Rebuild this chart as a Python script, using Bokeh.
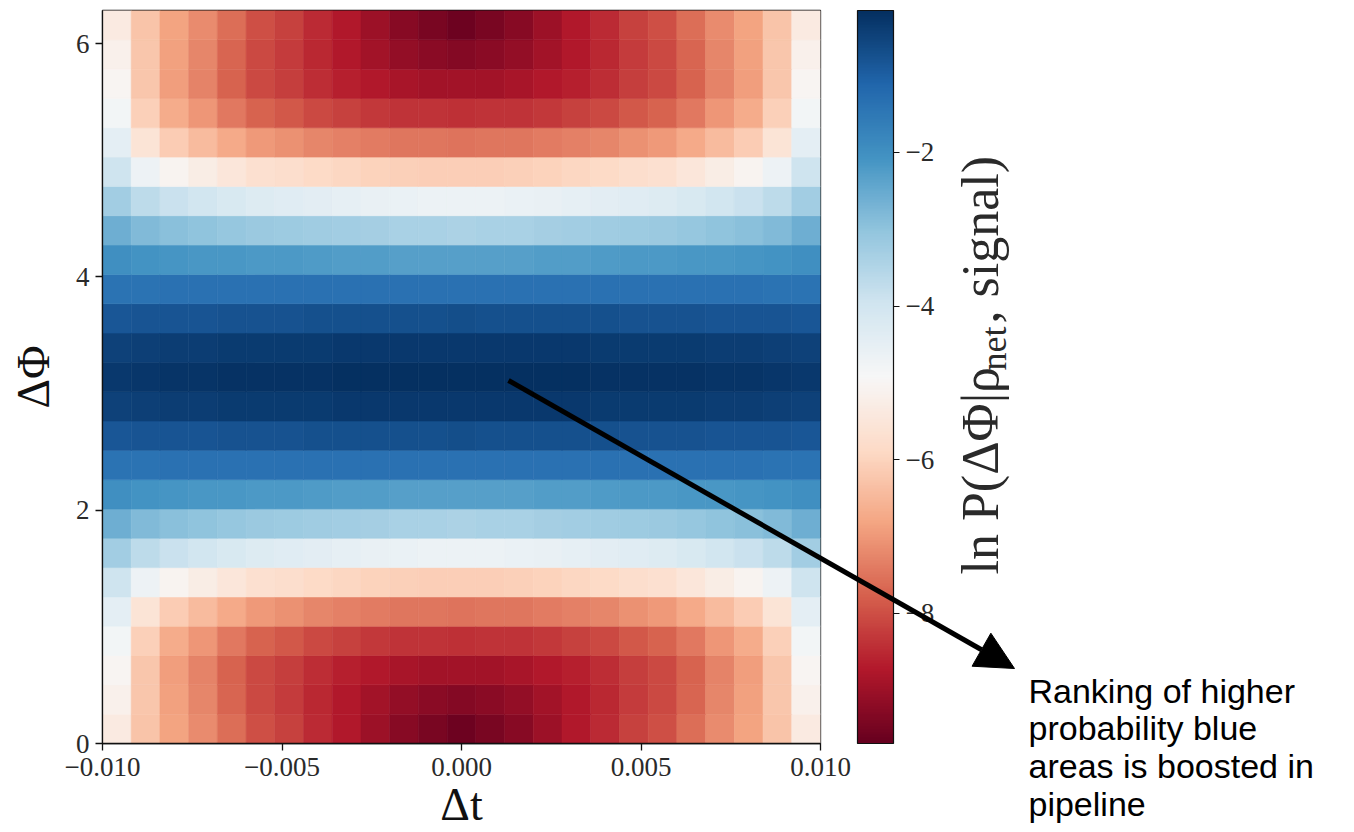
import math
from bokeh.plotting import figure
from bokeh.models import (LinearColorMapper, ColorBar, FixedTicker, Label, Arrow,
                          NormalHead, ColumnDataSource, GridBox, Range1d)
from bokeh.transform import transform
from bokeh.embed import file_html
from bokeh.resources import INLINE

# ---------------- data ----------------
dt_centers = [-0.0096, -0.0088, -0.0080, -0.0072, -0.0064, -0.0056, -0.0048, -0.0040,
              -0.0032, -0.0024, -0.0016, -0.0008, 0.0000, 0.0008, 0.0016, 0.0024,
              0.0032, 0.0040, 0.0048, 0.0056, 0.0064, 0.0072, 0.0080, 0.0088, 0.0096]
dphi_centers = [0.1257, 0.3770, 0.6283, 0.8796, 1.1310, 1.3823, 1.6336, 1.8850, 2.1363,
                2.3876, 2.6389, 2.8903, 3.1416, 3.3929, 3.6442, 3.8956, 4.1469, 4.3982,
                4.6496, 4.9009, 5.1522, 5.4035, 5.6549, 5.9062, 6.1575]
# ln P values, one row per dphi centre (bottom to top), one column per dt centre
lnp = [
    [-5.35,-6.29,-6.84,-7.18,-7.60,-7.99,-8.20,-8.50,-8.75,-9.01,-9.26,-9.45,-9.60,-9.45,-9.26,-9.01,-8.75,-8.50,-8.20,-7.99,-7.60,-7.18,-6.84,-6.29,-5.35],
    [-5.15,-6.26,-6.88,-7.25,-7.69,-8.06,-8.26,-8.53,-8.75,-8.95,-9.12,-9.24,-9.30,-9.24,-9.12,-8.95,-8.75,-8.53,-8.26,-8.06,-7.69,-7.25,-6.88,-6.26,-5.15],
    [-5.00,-6.26,-6.92,-7.30,-7.73,-8.07,-8.24,-8.46,-8.62,-8.76,-8.87,-8.93,-8.95,-8.93,-8.87,-8.76,-8.62,-8.46,-8.24,-8.07,-7.73,-7.30,-6.92,-6.26,-5.00],
    [-4.80,-6.07,-6.71,-7.05,-7.44,-7.74,-7.88,-8.06,-8.18,-8.29,-8.36,-8.39,-8.40,-8.39,-8.36,-8.29,-8.18,-8.06,-7.88,-7.74,-7.44,-7.05,-6.71,-6.07,-4.80],
    [-4.45,-5.57,-6.12,-6.42,-6.75,-6.99,-7.11,-7.25,-7.34,-7.42,-7.47,-7.49,-7.50,-7.49,-7.47,-7.42,-7.34,-7.25,-7.11,-6.99,-6.75,-6.42,-6.12,-5.57,-4.45],
    [-3.95,-4.69,-5.07,-5.27,-5.50,-5.69,-5.77,-5.88,-5.96,-6.02,-6.07,-6.09,-6.10,-6.09,-6.07,-6.02,-5.96,-5.88,-5.77,-5.69,-5.50,-5.27,-5.07,-4.69,-3.95],
    [-3.25,-3.66,-3.88,-4.01,-4.16,-4.29,-4.35,-4.44,-4.50,-4.56,-4.61,-4.64,-4.65,-4.64,-4.61,-4.56,-4.50,-4.44,-4.35,-4.29,-4.16,-4.01,-3.88,-3.66,-3.25],
    [-2.60,-2.81,-2.92,-2.99,-3.08,-3.15,-3.19,-3.24,-3.28,-3.32,-3.36,-3.39,-3.40,-3.39,-3.36,-3.32,-3.28,-3.24,-3.19,-3.15,-3.08,-2.99,-2.92,-2.81,-2.60],
    [-2.00,-2.07,-2.11,-2.13,-2.16,-2.19,-2.20,-2.22,-2.24,-2.26,-2.28,-2.29,-2.30,-2.29,-2.28,-2.26,-2.24,-2.22,-2.20,-2.19,-2.16,-2.13,-2.11,-2.07,-2.00],
    [-1.40,-1.39,-1.38,-1.38,-1.37,-1.37,-1.37,-1.36,-1.36,-1.36,-1.35,-1.35,-1.35,-1.35,-1.35,-1.36,-1.36,-1.36,-1.37,-1.37,-1.37,-1.38,-1.38,-1.39,-1.40],
    [-0.85,-0.82,-0.80,-0.79,-0.77,-0.76,-0.75,-0.74,-0.73,-0.72,-0.71,-0.71,-0.70,-0.71,-0.71,-0.72,-0.73,-0.74,-0.75,-0.76,-0.77,-0.79,-0.80,-0.82,-0.85],
    [-0.45,-0.42,-0.40,-0.39,-0.37,-0.36,-0.35,-0.34,-0.33,-0.32,-0.31,-0.31,-0.30,-0.31,-0.31,-0.32,-0.33,-0.34,-0.35,-0.36,-0.37,-0.39,-0.40,-0.42,-0.45],
    [-0.30,-0.27,-0.25,-0.24,-0.22,-0.21,-0.20,-0.19,-0.18,-0.17,-0.16,-0.16,-0.15,-0.16,-0.16,-0.17,-0.18,-0.19,-0.20,-0.21,-0.22,-0.24,-0.25,-0.27,-0.30],
    [-0.45,-0.42,-0.40,-0.39,-0.37,-0.36,-0.35,-0.34,-0.33,-0.32,-0.31,-0.31,-0.30,-0.31,-0.31,-0.32,-0.33,-0.34,-0.35,-0.36,-0.37,-0.39,-0.40,-0.42,-0.45],
    [-0.85,-0.82,-0.80,-0.79,-0.77,-0.76,-0.75,-0.74,-0.73,-0.72,-0.71,-0.71,-0.70,-0.71,-0.71,-0.72,-0.73,-0.74,-0.75,-0.76,-0.77,-0.79,-0.80,-0.82,-0.85],
    [-1.40,-1.39,-1.38,-1.38,-1.37,-1.37,-1.37,-1.36,-1.36,-1.36,-1.35,-1.35,-1.35,-1.35,-1.35,-1.36,-1.36,-1.36,-1.37,-1.37,-1.37,-1.38,-1.38,-1.39,-1.40],
    [-2.00,-2.07,-2.11,-2.13,-2.16,-2.19,-2.20,-2.22,-2.24,-2.26,-2.28,-2.29,-2.30,-2.29,-2.28,-2.26,-2.24,-2.22,-2.20,-2.19,-2.16,-2.13,-2.11,-2.07,-2.00],
    [-2.60,-2.81,-2.92,-2.99,-3.08,-3.15,-3.19,-3.24,-3.28,-3.32,-3.36,-3.39,-3.40,-3.39,-3.36,-3.32,-3.28,-3.24,-3.19,-3.15,-3.08,-2.99,-2.92,-2.81,-2.60],
    [-3.25,-3.66,-3.88,-4.01,-4.16,-4.29,-4.35,-4.44,-4.50,-4.56,-4.61,-4.64,-4.65,-4.64,-4.61,-4.56,-4.50,-4.44,-4.35,-4.29,-4.16,-4.01,-3.88,-3.66,-3.25],
    [-3.95,-4.69,-5.07,-5.27,-5.50,-5.69,-5.77,-5.88,-5.96,-6.02,-6.07,-6.09,-6.10,-6.09,-6.07,-6.02,-5.96,-5.88,-5.77,-5.69,-5.50,-5.27,-5.07,-4.69,-3.95],
    [-4.45,-5.57,-6.12,-6.42,-6.75,-6.99,-7.11,-7.25,-7.34,-7.42,-7.47,-7.49,-7.50,-7.49,-7.47,-7.42,-7.34,-7.25,-7.11,-6.99,-6.75,-6.42,-6.12,-5.57,-4.45],
    [-4.80,-6.07,-6.71,-7.05,-7.44,-7.74,-7.88,-8.06,-8.18,-8.29,-8.36,-8.39,-8.40,-8.39,-8.36,-8.29,-8.18,-8.06,-7.88,-7.74,-7.44,-7.05,-6.71,-6.07,-4.80],
    [-5.00,-6.26,-6.92,-7.30,-7.73,-8.07,-8.24,-8.46,-8.62,-8.76,-8.87,-8.93,-8.95,-8.93,-8.87,-8.76,-8.62,-8.46,-8.24,-8.07,-7.73,-7.30,-6.92,-6.26,-5.00],
    [-5.15,-6.26,-6.88,-7.25,-7.69,-8.06,-8.26,-8.53,-8.75,-8.95,-9.12,-9.24,-9.30,-9.24,-9.12,-8.95,-8.75,-8.53,-8.26,-8.06,-7.69,-7.25,-6.88,-6.26,-5.15],
    [-5.35,-6.29,-6.84,-7.18,-7.60,-7.99,-8.20,-8.50,-8.75,-9.01,-9.26,-9.45,-9.60,-9.45,-9.26,-9.01,-8.75,-8.50,-8.20,-7.99,-7.60,-7.18,-6.84,-6.29,-5.35],
]
x_ticks = [-0.01, -0.005, 0.0, 0.005, 0.01]
x_tick_labels = ["\u22120.010", "\u22120.005", "0.000", "0.005", "0.010"]
y_ticks = [0, 2, 4, 6]
cbar_ticks = [-8, -6, -4, -2]
cbar_tick_labels = ["\u22128", "\u22126", "\u22124", "\u22122"]
cbar_low, cbar_high = -9.7, -0.15
x_label = "\u0394t"
y_label = "\u0394\u03a6"
cbar_title_parts = ["ln P(\u0394\u03a6|\u03c1", "net", ", signal)"]
note_lines = ["Ranking of higher", "probability blue", "areas is boosted in", "pipeline"]

# ---------------- style ----------------
rdbu = ["#67001f", "#b2182b", "#d6604d", "#f4a582", "#fddbc7", "#f7f7f7",
        "#d1e5f0", "#92c5de", "#4393c3", "#2166ac", "#053061"]


def _rgb(h):
    return tuple(int(h[i:i + 2], 16) for i in (1, 3, 5))


palette = []
for i in range(256):
    t = i / 255 * (len(rdbu) - 1)
    k = min(int(t), len(rdbu) - 2)
    f = t - k
    a, b = _rgb(rdbu[k]), _rgb(rdbu[k + 1])
    palette.append("#%02x%02x%02x" % tuple(round(a[c] + (b[c] - a[c]) * f) for c in range(3)))

W, H = 1354, 832
FL, FR, FT, FB = 102, 820, 10, 743
X0, X1 = -0.01, 0.01
Y0, Y1 = 0.0, 2 * math.pi
SERIF = "Liberation Serif"
SANS = "Liberation Sans"
INK = "#111111"
TXT = "#2a2a2a"

# ---------------- main heat-map figure ----------------
p = figure(frame_width=FR - FL, frame_height=FB - FT, x_range=(X0, X1), y_range=(Y0, Y1),
           min_border_left=FL, min_border_right=W - FR, min_border_top=FT,
           min_border_bottom=H - FB, output_backend="svg", toolbar_location=None)
p.frame_align = False
p.background_fill_color = "white"
p.border_fill_color = "white"
p.outline_line_color = INK
p.outline_line_width = 1.3
p.xgrid.visible = False
p.ygrid.visible = False

mapper = LinearColorMapper(palette=palette, low=cbar_low, high=cbar_high)

xs, ys, vs = [], [], []
for i, yc in enumerate(dphi_centers):
    for j, xc in enumerate(dt_centers):
        xs.append(xc)
        ys.append(yc)
        vs.append(lnp[i][j])
src = ColumnDataSource(dict(x=xs, y=ys, v=vs))
cw = (X1 - X0) / len(dt_centers)
ch = (Y1 - Y0) / len(dphi_centers)
p.rect("x", "y", width=cw, height=ch, source=src, fill_color=transform("v", mapper),
       line_color=transform("v", mapper), line_width=0.6)

xaxis = p.xaxis[0]
yaxis = p.yaxis[0]
xaxis.ticker = FixedTicker(ticks=x_ticks)
xaxis.major_label_overrides = dict(zip(x_ticks, x_tick_labels))
yaxis.ticker = FixedTicker(ticks=y_ticks)
xaxis.axis_label = x_label
yaxis.axis_label = y_label
for ax in (xaxis, yaxis):
    ax.minor_tick_line_color = None
    ax.major_tick_in = 0
    ax.major_tick_out = 7
    ax.major_tick_line_color = INK
    ax.major_tick_line_width = 1.3
    ax.axis_line_color = INK
    ax.axis_line_width = 1.3
    ax.major_label_text_font = SERIF
    ax.major_label_text_font_size = "27px"
    ax.major_label_text_color = TXT
    ax.axis_label_text_font = SERIF
    ax.axis_label_text_font_size = "46px"
    ax.axis_label_text_font_style = "normal"
    ax.axis_label_text_color = INK
xaxis.major_label_standoff = 7
xaxis.axis_label_standoff = 0
yaxis.major_label_standoff = 6
yaxis.axis_label_standoff = 14

# ---------------- transparent overlay in canvas pixels ----------------
ov = figure(width=W, height=H, x_range=Range1d(0, W), y_range=Range1d(H, 0),
            x_axis_type=None, y_axis_type=None, min_border=0,
            output_backend="svg", toolbar_location=None)
ov.frame_align = False
ov.outline_line_color = None
ov.background_fill_alpha = 0
ov.border_fill_alpha = 0

cb = ColorBar(color_mapper=mapper, width=36, height=FB - FT, location=(857, H - FB),
              ticker=FixedTicker(ticks=cbar_ticks),
              major_label_overrides=dict(zip(cbar_ticks, cbar_tick_labels)),
              major_tick_in=0, major_tick_out=6, major_tick_line_color=INK,
              major_tick_line_width=1.2, minor_tick_line_color=None,
              bar_line_color=INK, bar_line_width=1.2, padding=0, margin=0,
              label_standoff=6, major_label_text_font=SERIF,
              major_label_text_font_size="27px", major_label_text_color=TXT,
              background_fill_alpha=0, border_line_color=None)
ov.add_layout(cb, "center")

# colour-bar title, rotated, reading bottom to top
TFS = 52
SFS = 36
title_x = 980
start_y = 574
w1 = 204
w2 = 47
ov.add_layout(Label(x=title_x, y=start_y, text=cbar_title_parts[0], angle=math.pi / 2,
                    text_font=SERIF, text_font_size=f"{TFS}px", text_color=TXT,
                    text_align="left", text_baseline="middle"))
ov.add_layout(Label(x=title_x + 13, y=start_y - w1, text=cbar_title_parts[1], angle=math.pi / 2,
                    text_font=SERIF, text_font_size=f"{SFS}px", text_color=TXT,
                    text_align="left", text_baseline="middle"))
ov.add_layout(Label(x=title_x, y=start_y - w1 - w2, text=cbar_title_parts[2], angle=math.pi / 2,
                    text_font=SERIF, text_font_size=f"{TFS}px", text_color=TXT,
                    text_align="left", text_baseline="middle"))

# annotation arrow and text
ov.add_layout(Arrow(end=NormalHead(size=38, fill_color="black", line_color="black", line_width=1),
                    x_start=508, y_start=380, x_end=1014, y_end=668,
                    line_color="black", line_width=5))
for k, line in enumerate(note_lines):
    ov.add_layout(Label(x=1028, y=690 + 37.7 * k, text=line, text_font=SANS,
                        text_font_size="34px", text_color="black", text_align="left",
                        text_baseline="middle"))

page = GridBox(children=[(p, 0, 0), (ov, 0, 0)])
open("out.html", "w").write(file_html(page, INLINE))
